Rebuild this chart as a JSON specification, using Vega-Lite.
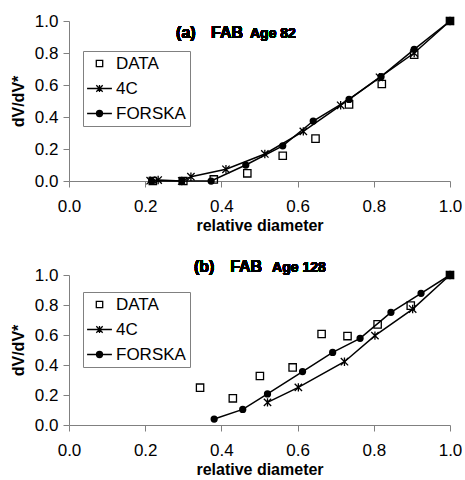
{
  "$schema": "https://vega.github.io/schema/vega-lite/v6.json",
  "padding": {"left": 10, "top": 12, "right": 0, "bottom": 0},
  "background": "white",
  "datasets": {
    "a": [
      {"series": "DATA", "d": 0.22, "v": 0.0},
      {"series": "DATA", "d": 0.30, "v": 0.0},
      {"series": "DATA", "d": 0.38, "v": 0.01},
      {"series": "DATA", "d": 0.468, "v": 0.048},
      {"series": "DATA", "d": 0.561, "v": 0.158},
      {"series": "DATA", "d": 0.647, "v": 0.265},
      {"series": "DATA", "d": 0.735, "v": 0.479},
      {"series": "DATA", "d": 0.821, "v": 0.606},
      {"series": "DATA", "d": 0.906, "v": 0.79},
      {"series": "DATA", "d": 1.0, "v": 1.0},
      {"series": "4C", "d": 0.213, "v": 0.002},
      {"series": "4C", "d": 0.234, "v": 0.006},
      {"series": "4C", "d": 0.296, "v": 0.0},
      {"series": "4C", "d": 0.32, "v": 0.027},
      {"series": "4C", "d": 0.412, "v": 0.073},
      {"series": "4C", "d": 0.514, "v": 0.169},
      {"series": "4C", "d": 0.615, "v": 0.31},
      {"series": "4C", "d": 0.713, "v": 0.473},
      {"series": "4C", "d": 0.815, "v": 0.648},
      {"series": "4C", "d": 0.906, "v": 0.80},
      {"series": "4C", "d": 1.0, "v": 1.0},
      {"series": "FORSKA", "d": 0.217, "v": 0.0},
      {"series": "FORSKA", "d": 0.296, "v": 0.0},
      {"series": "FORSKA", "d": 0.373, "v": 0.0},
      {"series": "FORSKA", "d": 0.464, "v": 0.10},
      {"series": "FORSKA", "d": 0.561, "v": 0.22},
      {"series": "FORSKA", "d": 0.641, "v": 0.375},
      {"series": "FORSKA", "d": 0.735, "v": 0.51},
      {"series": "FORSKA", "d": 0.819, "v": 0.652},
      {"series": "FORSKA", "d": 0.906, "v": 0.823},
      {"series": "FORSKA", "d": 1.0, "v": 1.0}
    ],
    "b": [
      {"series": "DATA", "d": 0.344, "v": 0.249},
      {"series": "DATA", "d": 0.43, "v": 0.178},
      {"series": "DATA", "d": 0.501, "v": 0.327},
      {"series": "DATA", "d": 0.587, "v": 0.384},
      {"series": "DATA", "d": 0.663, "v": 0.607},
      {"series": "DATA", "d": 0.731, "v": 0.593},
      {"series": "DATA", "d": 0.81, "v": 0.671},
      {"series": "DATA", "d": 0.897, "v": 0.796},
      {"series": "DATA", "d": 1.0, "v": 1.0},
      {"series": "4C", "d": 0.521, "v": 0.151},
      {"series": "4C", "d": 0.602, "v": 0.251},
      {"series": "4C", "d": 0.723, "v": 0.422},
      {"series": "4C", "d": 0.803, "v": 0.596},
      {"series": "4C", "d": 0.902, "v": 0.773},
      {"series": "4C", "d": 1.0, "v": 1.0},
      {"series": "FORSKA", "d": 0.381, "v": 0.04},
      {"series": "FORSKA", "d": 0.456, "v": 0.104},
      {"series": "FORSKA", "d": 0.521, "v": 0.207},
      {"series": "FORSKA", "d": 0.613, "v": 0.356},
      {"series": "FORSKA", "d": 0.692, "v": 0.484},
      {"series": "FORSKA", "d": 0.764, "v": 0.578},
      {"series": "FORSKA", "d": 0.845, "v": 0.751},
      {"series": "FORSKA", "d": 0.924, "v": 0.878},
      {"series": "FORSKA", "d": 1.0, "v": 1.0}
    ]
  },
  "config": {
    "view": {"stroke": null},
    "font": "Liberation Sans",
    "axis": {
      "grid": false,
      "domainColor": "#808080",
      "tickColor": "#808080",
      "tickSize": 6,
      "labelFont": "Liberation Sans",
      "labelFontSize": 17,
      "labelColor": "black",
      "labelOverlap": false,
      "labelFlush": false,
      "titleFont": "Liberation Sans",
      "titleFontSize": 16,
      "titleFontWeight": "bold",
      "titleColor": "black"
    },
    "legend": {
      "strokeColor": "#808080",
      "fillColor": "white",
      "labelFont": "Liberation Sans",
      "labelFontSize": 17,
      "labelColor": "black",
      "symbolSize": 64,
      "symbolStrokeWidth": 1.3,
      "symbolStrokeColor": "black",
      "symbolFillColor": "transparent",
      "padding": 4,
      "symbolOffset": 4,
      "rowPadding": 7,
      "labelOffset": 8
    }
  },
  "spacing": 25,
  "vconcat": [
    {
      "width": 381,
      "height": 160,
      "data": {"name": "a"},
      "resolve": {"scale": {"shape": "independent"}, "legend": {"shape": "independent"}},
      "layer": [
        {
          "transform": [{"filter": "datum.series !== 'DATA'"}],
          "mark": {"type": "line", "color": "black", "strokeWidth": 1.5},
          "encoding": {
            "x": {"field": "d", "type": "quantitative", "scale": {"domain": [0, 1], "nice": false}, "axis": {"tickCount": 5, "format": ".1f", "title": "relative diameter", "labelPadding": 11, "titlePadding": 3}},
            "y": {"field": "v", "type": "quantitative", "scale": {"domain": [0, 1], "nice": false}, "axis": {"tickCount": 5, "format": ".1f", "title": "dV/dV*", "labelPadding": 5, "titlePadding": 8}},
            "detail": {"field": "series"}
          }
        },
        {
          "mark": {"type": "point", "filled": false, "stroke": "black", "strokeWidth": 1.3, "opacity": 1, "size": 49},
          "encoding": {
            "x": {"field": "d", "type": "quantitative"},
            "y": {"field": "v", "type": "quantitative"},
            "shape": {
              "field": "series", "type": "nominal",
              "scale": {"domain": ["DATA", "4C", "FORSKA"], "range": ["M-1.05,-1.05H1.05V1.05H-1.05Z", "M-1.05,-1.05L1.05,1.05M-1.05,1.05L1.05,-1.05M0,-1.2V1.2", "M0.85,0A0.85,0.85,0,1,1,-0.85,0A0.85,0.85,0,1,1,0.85,0M0.52,0A0.52,0.52,0,1,1,-0.52,0A0.52,0.52,0,1,1,0.52,0M0.2,0A0.2,0.2,0,1,1,-0.2,0A0.2,0.2,0,1,1,0.2,0"]},
              "legend": null
            }
          }
        },
        {
          "transform": [{"filter": "false"}],
          "mark": {"type": "point", "filled": false, "stroke": "black", "strokeWidth": 1.3, "opacity": 1, "size": 64},
          "encoding": {
            "x": {"field": "d", "type": "quantitative"},
            "y": {"field": "v", "type": "quantitative"},
            "shape": {
              "field": "series", "type": "nominal", "title": null,
              "scale": {"domain": ["DATA", "4C", "FORSKA"], "range": ["M-0.8,-0.8H0.8V0.8H-0.8Z", "M-3.1,0H3.1M-0.8,-0.8L0.8,0.8M-0.8,0.8L0.8,-0.8M0,-0.9V0.9", "M-3.1,0H3.1M0.75,0A0.75,0.75,0,1,1,-0.75,0A0.75,0.75,0,1,1,0.75,0M0.45,0A0.45,0.45,0,1,1,-0.45,0A0.45,0.45,0,1,1,0.45,0M0.16,0A0.16,0.16,0,1,1,-0.16,0A0.16,0.16,0,1,1,0.16,0"]},
              "legend": {"orient": "none", "legendX": 14, "legendY": 30}
            }
          }
        },
        {
          "mark": {"type": "text", "font": "Liberation Sans", "fontWeight": "bold", "fontSize": 16, "align": "left", "baseline": "alphabetic"},
          "encoding": {"x": {"datum": 0.281}, "y": {"datum": 0.894}, "text": {"value": "(a)"}}
        },
        {
          "mark": {"type": "text", "font": "Liberation Sans", "fontWeight": "bold", "fontSize": 16, "align": "left", "baseline": "alphabetic"},
          "encoding": {"x": {"datum": 0.373}, "y": {"datum": 0.894}, "text": {"value": "FAB"}}
        },
        {
          "mark": {"type": "text", "font": "Liberation Sans", "fontWeight": "bold", "fontSize": 14, "align": "left", "baseline": "alphabetic"},
          "encoding": {"x": {"datum": 0.475}, "y": {"datum": 0.894}, "text": {"value": "Age 82"}}
        }
      ]
    },
    {
      "width": 381,
      "height": 150,
      "data": {"name": "b"},
      "resolve": {"scale": {"shape": "independent"}, "legend": {"shape": "independent"}},
      "layer": [
        {
          "transform": [{"filter": "datum.series !== 'DATA'"}],
          "mark": {"type": "line", "color": "black", "strokeWidth": 1.5},
          "encoding": {
            "x": {"field": "d", "type": "quantitative", "scale": {"domain": [0, 1], "nice": false}, "axis": {"tickCount": 5, "format": ".1f", "title": "relative diameter", "labelPadding": 11, "titlePadding": 3}},
            "y": {"field": "v", "type": "quantitative", "scale": {"domain": [0, 1], "nice": false}, "axis": {"tickCount": 5, "format": ".1f", "title": "dV/dV*", "labelPadding": 5, "titlePadding": 8}},
            "detail": {"field": "series"}
          }
        },
        {
          "mark": {"type": "point", "filled": false, "stroke": "black", "strokeWidth": 1.3, "opacity": 1, "size": 49},
          "encoding": {
            "x": {"field": "d", "type": "quantitative"},
            "y": {"field": "v", "type": "quantitative"},
            "shape": {
              "field": "series", "type": "nominal",
              "scale": {"domain": ["DATA", "4C", "FORSKA"], "range": ["M-1.05,-1.05H1.05V1.05H-1.05Z", "M-1.05,-1.05L1.05,1.05M-1.05,1.05L1.05,-1.05M0,-1.2V1.2", "M0.85,0A0.85,0.85,0,1,1,-0.85,0A0.85,0.85,0,1,1,0.85,0M0.52,0A0.52,0.52,0,1,1,-0.52,0A0.52,0.52,0,1,1,0.52,0M0.2,0A0.2,0.2,0,1,1,-0.2,0A0.2,0.2,0,1,1,0.2,0"]},
              "legend": null
            }
          }
        },
        {
          "transform": [{"filter": "false"}],
          "mark": {"type": "point", "filled": false, "stroke": "black", "strokeWidth": 1.3, "opacity": 1, "size": 64},
          "encoding": {
            "x": {"field": "d", "type": "quantitative"},
            "y": {"field": "v", "type": "quantitative"},
            "shape": {
              "field": "series", "type": "nominal", "title": null,
              "scale": {"domain": ["DATA", "4C", "FORSKA"], "range": ["M-0.8,-0.8H0.8V0.8H-0.8Z", "M-3.1,0H3.1M-0.8,-0.8L0.8,0.8M-0.8,0.8L0.8,-0.8M0,-0.9V0.9", "M-3.1,0H3.1M0.75,0A0.75,0.75,0,1,1,-0.75,0A0.75,0.75,0,1,1,0.75,0M0.45,0A0.45,0.45,0,1,1,-0.45,0A0.45,0.45,0,1,1,0.45,0M0.16,0A0.16,0.16,0,1,1,-0.16,0A0.16,0.16,0,1,1,0.16,0"]},
              "legend": {"orient": "none", "legendX": 14, "legendY": 17}
            }
          }
        },
        {
          "mark": {"type": "text", "font": "Liberation Sans", "fontWeight": "bold", "fontSize": 16, "align": "left", "baseline": "alphabetic"},
          "encoding": {"x": {"datum": 0.328}, "y": {"datum": 1.02}, "text": {"value": "(b)"}}
        },
        {
          "mark": {"type": "text", "font": "Liberation Sans", "fontWeight": "bold", "fontSize": 16, "align": "left", "baseline": "alphabetic"},
          "encoding": {"x": {"datum": 0.423}, "y": {"datum": 1.02}, "text": {"value": "FAB"}}
        },
        {
          "mark": {"type": "text", "font": "Liberation Sans", "fontWeight": "bold", "fontSize": 14, "align": "left", "baseline": "alphabetic"},
          "encoding": {"x": {"datum": 0.533}, "y": {"datum": 1.02}, "text": {"value": "Age 128"}}
        }
      ]
    }
  ]
}
